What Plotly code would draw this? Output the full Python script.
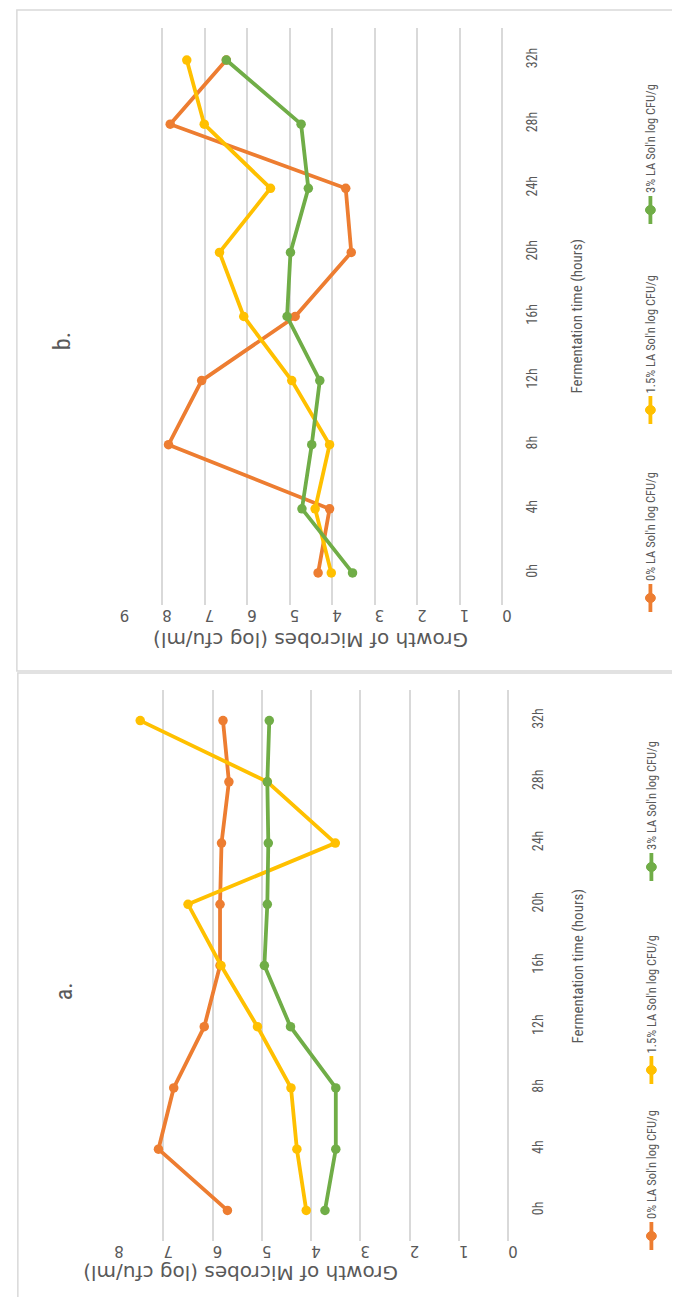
import plotly.graph_objects as go

W, H = 680, 1297

# ---------------- data ----------------
times = ["0h", "4h", "8h", "12h", "16h", "20h", "24h", "28h", "32h"]
series_names = ["0% LA Sol'n log CFU/g", "1.5% LA Sol'n log CFU/g", "3% LA Sol'n log CFU/g"]
colors = ["#ED7D31", "#FFC000", "#70AD47"]

a_0 = [5.70, 7.10, 6.79, 6.17, 5.85, 5.85, 5.82, 5.67, 5.79]
a_15 = [4.10, 4.29, 4.41, 5.09, 5.83, 6.50, 3.51, 4.89, 7.47]
a_3 = [3.72, 3.50, 3.50, 4.42, 4.95, 4.89, 4.87, 4.89, 4.85]

b_0 = [4.33, 4.06, 7.85, 7.07, 4.87, 3.55, 3.68, 7.81, 6.49]
b_15 = [4.02, 4.40, 4.06, 4.95, 6.08, 6.65, 5.45, 7.01, 7.42]
b_3 = [3.52, 4.71, 4.48, 4.29, 5.06, 4.98, 4.56, 4.73, 6.49]

a_ticks = [0, 1, 2, 3, 4, 5, 6, 7, 8]
b_ticks = [0, 1, 2, 3, 4, 5, 6, 7, 8, 9]

value_title = "Growth of Microbes (log cfu/ml)"
time_title = "Fermentation time (hours)"

# ---------------- helpers ----------------
def px(x):
    return x / W

def py(y):
    return 1 - y / H

NARROW = "Liberation Sans Narrow, Arial Narrow, Roboto Condensed, Roboto, sans-serif"
WIDE = "DejaVu Sans, Verdana, sans-serif"
GREY = "#595959"
GRID = "#D9D9D9"

fig = go.Figure()

panels = [
    dict(data=[b_0, b_15, b_3], vmax=9, ticks=b_ticks, xl=113.3, xr=501.5, yt=20, yb=597, ax=""),
    dict(data=[a_0, a_15, a_3], vmax=8, ticks=a_ticks, xl=107.7, xr=507.7, yt=682, yb=1233, ax="2"),
]

for p in panels:
    for name, vals, col in zip(series_names, p["data"], colors):
        fig.add_trace(go.Scatter(
            x=vals, y=times, mode="lines+markers", name=name,
            line=dict(color=col, width=3.8),
            marker=dict(color=col, size=9.5, symbol="circle"),
            xaxis="x" + p["ax"], yaxis="y" + p["ax"], showlegend=False,
        ))
    xa = dict(
        domain=[px(p["xl"]), px(p["xr"])],
        range=[p["vmax"], 0],
        tickvals=p["ticks"],
        ticktext=[str(t) for t in p["ticks"]],
        tickangle=180,
        tickfont=dict(family=WIDE, size=15, color=GREY),
        showgrid=True, gridcolor=GRID, gridwidth=1.5,
        zeroline=True, zerolinecolor=GRID, zerolinewidth=1.5,
        showline=False, ticks="",
        anchor="y" + p["ax"], fixedrange=True,
        ticklabelstandoff=4,
    )
    ya = dict(
        domain=[py(p["yb"]), py(p["yt"])],
        type="category",
        categoryorder="array", categoryarray=times,
        range=[-0.5, len(times) - 0.5],
        side="right",
        tickangle=-90,
        tickfont=dict(family=NARROW, size=14, color=GREY),
        showgrid=False, zeroline=False, showline=False, ticks="",
        anchor="x" + p["ax"], fixedrange=True,
        ticklabelstandoff=20,
    )
    fig.update_layout(**{"xaxis" + p["ax"]: xa, "yaxis" + p["ax"]: ya})

shapes = []
annotations = []

# panel borders
shapes.append(dict(type="rect", xref="paper", yref="paper",
                   x0=px(9), x1=px(681), y0=py(663), y1=py(2),
                   line=dict(color=GRID, width=1.5)))
shapes.append(dict(type="rect", xref="paper", yref="paper",
                   x0=px(10), x1=px(678), y0=py(1295), y1=py(665),
                   line=dict(color=GRID, width=1.5)))

# axis titles and panel labels
panel_text = [
    dict(label="b.", lx=55, ly=333, vt_x=307, vt_y=632, tt_x=577, tt_y=308),
    dict(label="a.", lx=57, ly=983, vt_x=236, vt_y=1265, tt_x=578, tt_y=958),
]
for t in panel_text:
    annotations.append(dict(text=t["label"], x=px(t["lx"]), y=py(t["ly"]), xref="paper", yref="paper",
                            showarrow=False, textangle=-90, font=dict(family=NARROW, size=24, color=GREY),
                            xanchor="center", yanchor="middle"))
    annotations.append(dict(text=value_title, x=px(t["vt_x"]), y=py(t["vt_y"]), xref="paper", yref="paper",
                            showarrow=False, textangle=180, font=dict(family=WIDE, size=20, color=GREY),
                            xanchor="center", yanchor="middle"))
    annotations.append(dict(text=time_title, x=px(t["tt_x"]), y=py(t["tt_y"]), xref="paper", yref="paper",
                            showarrow=False, textangle=-90, font=dict(family=NARROW, size=15, color=GREY),
                            xanchor="center", yanchor="middle"))

# manual rotated legends
legend_pos = [
    dict(x=652, ys=[590, 402, 202]),
    dict(x=653, ys=[1228, 1062, 859]),
]
for lp in legend_pos:
    for name, col, yc in zip(series_names, colors, lp["ys"]):
        shapes.append(dict(type="line", xref="paper", yref="paper",
                           x0=px(lp["x"]), x1=px(lp["x"]), y0=py(yc + 14), y1=py(yc - 14),
                           line=dict(color=col, width=3.8)))
        shapes.append(dict(type="circle", xref="paper", yref="paper",
                           x0=px(lp["x"] - 5), x1=px(lp["x"] + 5), y0=py(yc + 4.5), y1=py(yc - 4.5),
                           fillcolor=col, line=dict(color=col, width=1)))
        annotations.append(dict(text=name, x=px(lp["x"]), y=py(yc - 15), xref="paper", yref="paper",
                                showarrow=False, textangle=-90,
                                font=dict(family=NARROW, size=12.5, color=GREY),
                                xanchor="center", yanchor="bottom"))

fig.update_layout(
    width=W, height=H,
    margin=dict(l=0, r=0, t=0, b=0),
    paper_bgcolor="white", plot_bgcolor="white",
    shapes=shapes, annotations=annotations,
    showlegend=False,
)

fig.write_html("out.html")
